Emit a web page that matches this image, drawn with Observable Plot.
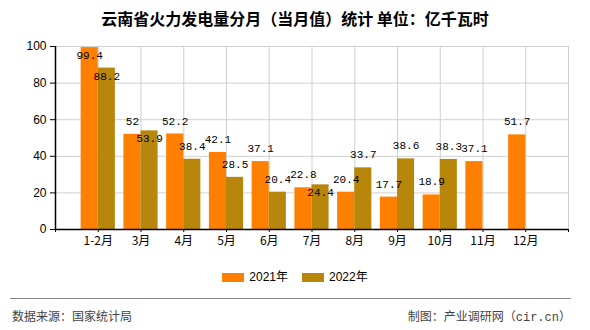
<!DOCTYPE html>
<html>
<head>
<meta charset="utf-8">
<script src="https://cdn.jsdelivr.net/npm/d3@7"></script>
<script src="https://cdn.jsdelivr.net/npm/@observablehq/plot@0.6"></script>
<style>
  html, body { margin: 0; padding: 0; background: #fff; }
  #wrap { position: relative; width: 590px; height: 330px; overflow: hidden; font-family: "Noto Sans CJK SC", sans-serif; }
  #title { position: absolute; left: 0; width: 590px; top: 7px; text-align: center; font-size: 16px; font-weight: bold; color: #000; line-height: 22px; }
  #chart { position: absolute; left: 0; top: 0; }
  #legend { position: absolute; left: 0; width: 590px; top: 269px; display: flex; justify-content: center; align-items: center; font-size: 12px; line-height: 16px; font-family: "Liberation Sans", "Noto Sans CJK SC", sans-serif; }
  .item { display: flex; align-items: center; margin: 0 7px; }
  .sw { width: 22px; height: 9px; margin-right: 5px; }
  #divider { position: absolute; left: 10px; width: 561px; top: 298px; height: 0; border-top: 1px solid #888; }
  .foot { position: absolute; top: 307px; font-size: 12px; line-height: 18px; color: #444; }
  #src { left: 12px; }
  #credit { right: 19px; }
</style>
</head>
<body>
<div id="wrap">
  <div id="title"></div>
  <div id="chart"></div>
  <div id="legend"></div>
  <div id="divider"></div>
  <div class="foot" id="src"></div>
  <div class="foot" id="credit"></div>
</div>
<script>
const titleText = "云南省火力发电量分月（当月值）统计 单位：亿千瓦时";
const months = ["1-2月", "3月", "4月", "5月", "6月", "7月", "8月", "9月", "10月", "11月", "12月"];
const values2021 = [99.4, 52, 52.2, 42.1, 37.1, 22.8, 20.4, 17.7, 18.9, 37.1, 51.7];
const values2022 = [88.2, 53.9, 38.4, 28.5, 20.4, 24.4, 33.7, 38.6, 38.3, null, null];
const seriesNames = ["2021年", "2022年"];
const colors = ["#ff8000", "#b8860b"];
const yTicks = [0, 20, 40, 60, 80, 100];
const sourceText = "数据来源：国家统计局";
const creditText = "制图：产业调研网（cir.cn）";

document.getElementById("title").textContent = titleText;
document.getElementById("src").textContent = sourceText;
document.getElementById("credit").innerHTML = "制图：产业调研网（<span style='font-family:\"Liberation Mono\",monospace'>cir.cn</span>）";

const W = 590, H = 260, mL = 55, mR = 22, mT = 46, mB = 31;
const yScale = Plot.scale({y: {domain: [0, 100], range: [H - mB, mT]}});
const bw = 0.4;

const rows = [];
months.forEach((m, i) => {
  const pos = i + 1;
  const v1 = values2021[i], v2 = values2022[i];
  const y1 = yScale.apply(v1);
  const in1 = y1 - 13 < mT + 4;
  const lab1 = in1 ? y1 + 8 : y1 - 13;
  rows.push({month: m, pos, series: seriesNames[0], v: v1, x1: pos - bw, x2: pos, inside: in1});
  if (v2 != null) {
    const y2 = yScale.apply(v2);
    const in2 = Math.abs((y2 - 13) - lab1) < 12;
    rows.push({month: m, pos, series: seriesNames[1], v: v2, x1: pos, x2: pos + bw, inside: in2});
  }
});

const chart = Plot.plot({
  width: W, height: H,
  marginLeft: mL, marginRight: mR, marginTop: mT, marginBottom: mB,
  style: {background: "transparent", overflow: "visible"},
  x: {type: "linear", domain: [0, months.length + 1]},
  y: {domain: [0, 100]},
  color: {domain: seriesNames, range: colors},
  marks: [
    Plot.ruleY(yTicks.slice(1), {stroke: "#d0d0d0", strokeWidth: 1}),
    Plot.ruleX(d3.range(1, months.length + 2), {stroke: "#d0d0d0", strokeWidth: 1}),
    Plot.rectY(rows, {x1: "x1", x2: "x2", y1: 0, y2: "v", fill: "series", inset: 0}),
    Plot.text(rows.filter(d => !d.inside), {
      x: d => (d.x1 + d.x2) / 2, y: "v", text: d => String(d.v), dy: -13,
      fontFamily: "Liberation Mono, monospace", fontSize: 11, fill: "#000", lineAnchor: "middle"
    }),
    Plot.text(rows.filter(d => d.inside), {
      x: d => (d.x1 + d.x2) / 2, y: "v", text: d => String(d.v), dy: 8,
      fontFamily: "Liberation Mono, monospace", fontSize: 11, fill: "#000", lineAnchor: "middle"
    }),
    Plot.axisY({ticks: yTicks, tickSize: 5, tickPadding: 4, label: null, fontSize: 12, fontFamily: "Liberation Sans, sans-serif", color: "#000"}),
    Plot.axisX({ticks: d3.range(0, months.length + 2), tickSize: 3, tickPadding: 4, label: null,
      tickFormat: t => (t >= 1 && t <= months.length) ? months[t - 1] : "",
      fontSize: 12, fontFamily: "Noto Sans CJK SC, sans-serif", color: "#000"}),
    Plot.ruleX([0], {stroke: "#000", strokeWidth: 1.5}),
    Plot.ruleY([0], {stroke: "#000", strokeWidth: 1.5})
  ]
});
chart.style.fontFamily = "Liberation Sans, sans-serif";
document.getElementById("chart").appendChild(chart);

const legend = document.getElementById("legend");
seriesNames.forEach((s, i) => {
  const it = document.createElement("div");
  it.className = "item";
  const sw = document.createElement("div");
  sw.className = "sw";
  sw.style.background = colors[i];
  const tx = document.createElement("span");
  tx.textContent = s;
  it.appendChild(sw); it.appendChild(tx);
  legend.appendChild(it);
});
</script>
</body>
</html>
